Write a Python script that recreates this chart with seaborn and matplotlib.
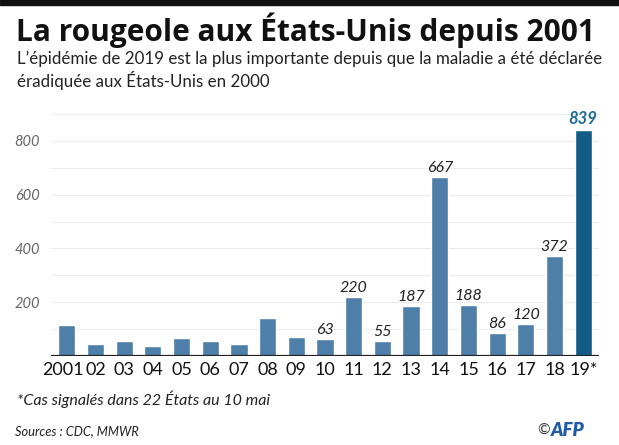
import matplotlib
matplotlib.use("Agg")
import matplotlib.pyplot as plt
import matplotlib.transforms as mtransforms
import seaborn as sns
import pandas as pd
from matplotlib.patches import Rectangle

years = ["2001", "02", "03", "04", "05", "06", "07", "08", "09", "10",
         "11", "12", "13", "14", "15", "16", "17", "18", "19*"]
cases = [116, 44, 56, 37, 66, 55, 43, 140, 71, 63,
         220, 55, 187, 667, 188, 86, 120, 372, 839]
labelled = ["10", "11", "12", "13", "14", "15", "16", "17", "18", "19*"]
y_ticks = [200, 400, 600, 800]

df = pd.DataFrame({"year": years, "cases": cases})

sns.set_style("white")
plt.rcParams["font.family"] = ["Lato", "DejaVu Sans"]

fig = plt.figure(figsize=(6.19, 4.45), dpi=100)
ax = fig.add_axes([51 / 619, 1 - 356 / 445, 548 / 619, 246 / 445])

palette = ["#4d7fa9"] * (len(years) - 1) + ["#145c86"]
sns.barplot(data=df, x="year", y="cases", hue="year", palette=palette,
            legend=False, width=0.6, ax=ax, saturation=1)

ax.set_ylim(0, 915)
ax.set_xlim(-0.55, len(years) - 0.45)
for v in range(100, 901, 100):
    ax.axhline(v, color="#ececec", lw=0.8, zorder=0)
ax.axhline(0, color="#222222", lw=1.6, zorder=3)

ax.set_yticks(y_ticks)
ax.set_yticklabels([str(t) for t in y_ticks], fontstyle="italic",
                   color="#666666", fontsize=10.5)
ax.tick_params(axis="y", length=0, pad=8)
ax.tick_params(axis="x", length=0, pad=4)
ax.set_xticks(range(len(years)))
ax.set_xticklabels(years, fontsize=13, color="#111111")
# "2001" sits a bit left of its bar, as in the original
first = ax.get_xticklabels()[0]
first.set_transform(first.get_transform() +
                    mtransforms.ScaledTranslation(-4 / 100, 0, fig.dpi_scale_trans))
ax.set_xlabel("")
ax.set_ylabel("")
sns.despine(ax=ax, left=True, bottom=True)

for i, (yr, c) in enumerate(zip(years, cases)):
    if yr in labelled:
        if yr == "19*":
            ax.text(i, c + 12, str(c), ha="center", va="bottom", fontsize=12,
                    fontstyle="italic", fontweight="bold", color="#1f6a97")
        else:
            ax.text(i, c + 8, str(c), ha="center", va="bottom", fontsize=11.5,
                    fontstyle="italic", color="#222222")

# top black band
fig.patches.append(Rectangle((0, 1 - 5 / 445), 1, 5 / 445, transform=fig.transFigure,
                             color="#111111", zorder=5))

fig.text(16 / 619, 1 - 41 / 445, "La rougeole aux États-Unis depuis 2001",
         family=["Open Sans", "Lato"], fontsize=21.5, fontweight="bold",
         color="#111111", va="baseline")
fig.text(17 / 619, 1 - 59 / 445,
         "L\u2019épidémie de 2019 est la plus importante depuis que la maladie a été déclarée",
         fontsize=12.2, color="#222222", va="center")
fig.text(17 / 619, 1 - 81 / 445, "éradiquée aux États-Unis en 2000",
         fontsize=12.2, color="#222222", va="center")

fig.text(17 / 619, 1 - 399 / 445, "*Cas signalés dans 22 États au 10 mai",
         fontsize=11.5, fontstyle="italic", color="#222222", va="center")
fig.text(15 / 619, 1 - 431 / 445, "Sources : CDC, MMWR",
         fontsize=9.3, fontstyle="italic", color="#222222", va="center")
fig.text(537 / 619, 1 - 431 / 445, "©", fontsize=11, color="#333333", va="center")
fig.text(551 / 619, 1 - 430 / 445, "AFP", fontsize=13.5, fontweight="heavy",
         fontstyle="italic", color="#1e5aa8", va="center")

fig.savefig("out.png", dpi=100)
